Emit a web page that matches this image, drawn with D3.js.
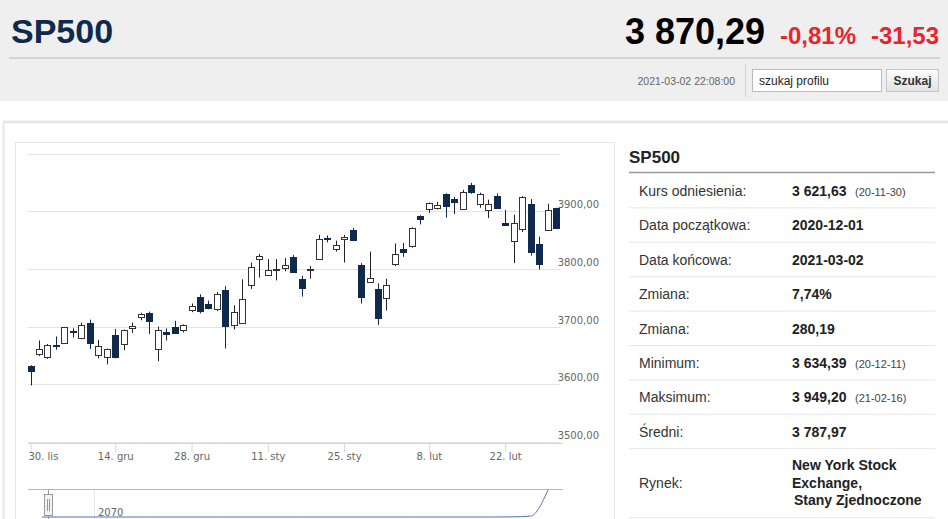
<!DOCTYPE html>
<html>
<head>
<meta charset="utf-8">
<script src="https://cdn.jsdelivr.net/npm/d3@7"></script>
<style>
  body { margin: 0; background: #fff; }
  svg text { font-family: "Liberation Sans", Arial, sans-serif; }
  .ax text { font-family: "DejaVu Sans", Verdana, sans-serif; font-size: 10px; fill: #666; }
</style>
</head>
<body>
<svg id="page" width="948" height="519"></svg>
<script>
// sesje Nov 30 2020 - Mar 2 2021
const dates = [
  '2020-11-30','2020-12-01','2020-12-02','2020-12-03','2020-12-04','2020-12-07','2020-12-08','2020-12-09','2020-12-10','2020-12-11',
  '2020-12-14','2020-12-15','2020-12-16','2020-12-17','2020-12-18','2020-12-21','2020-12-22','2020-12-23','2020-12-24','2020-12-28',
  '2020-12-29','2020-12-30','2020-12-31','2021-01-04','2021-01-05','2021-01-06','2021-01-07','2021-01-08','2021-01-11','2021-01-12',
  '2021-01-13','2021-01-14','2021-01-15','2021-01-19','2021-01-20','2021-01-21','2021-01-22','2021-01-25','2021-01-26','2021-01-27',
  '2021-01-28','2021-01-29','2021-02-01','2021-02-02','2021-02-03','2021-02-04','2021-02-05','2021-02-08','2021-02-09','2021-02-10',
  '2021-02-11','2021-02-12','2021-02-16','2021-02-17','2021-02-18','2021-02-19','2021-02-22','2021-02-23','2021-02-24','2021-02-25',
  '2021-02-26','2021-03-01','2021-03-02'
];
const opens = [
  3631, 3653, 3647, 3668, 3672, 3692.5, 3680, 3707, 3652, 3649,
  3686, 3670, 3698, 3718, 3723, 3661, 3691, 3700, 3695, 3728,
  3752, 3739, 3730, 3763, 3703, 3707, 3772, 3817, 3790, 3800,
  3801, 3821, 3783, 3797, 3818, 3853, 3834, 3851, 3867, 3806,
  3778, 3765, 3750, 3807, 3834, 3839, 3891, 3903, 3905, 3930,
  3921, 3905, 3945, 3913, 3902, 3926, 3880, 3849, 3869, 3912,
  3844, 3867, 3905
];
const highs = [
  3633, 3676, 3670, 3683, 3699.5, 3697, 3707, 3712, 3677, 3662,
  3696, 3695, 3707, 3724, 3726, 3700, 3697, 3710, 3704, 3740,
  3756, 3745, 3760, 3770, 3737, 3782, 3811, 3826, 3817, 3817,
  3819, 3824, 3788, 3805, 3859, 3858, 3849, 3859, 3871, 3810,
  3830, 3775, 3783, 3844, 3845, 3872, 3893, 3915, 3916, 3931,
  3925, 3937, 3949.2, 3932, 3920, 3931, 3902, 3894, 3926, 3921,
  3856, 3913, 3906
];
const lows = [
  3598, 3649, 3644, 3660, 3670, 3681, 3678, 3661, 3645, 3634.4,
  3645, 3659, 3689, 3711, 3687, 3640, 3676, 3688, 3690, 3725,
  3723, 3730, 3727, 3662, 3695, 3705, 3765, 3785, 3788, 3780,
  3796, 3793, 3752, 3783, 3816, 3846, 3830, 3811, 3848, 3740,
  3776, 3703, 3728, 3805, 3821, 3837, 3877, 3897, 3903, 3889,
  3895, 3904, 3930, 3906, 3888, 3905, 3877, 3810, 3864, 3823,
  3799, 3866, 3869
];
const closes = [
  3621.6, 3662, 3668, 3666.7, 3699, 3691, 3702, 3672.8, 3667, 3662,
  3647.5, 3694.6, 3701, 3722.5, 3709, 3694, 3687, 3690, 3703, 3735,
  3727, 3732, 3756, 3700.6, 3725, 3748, 3803, 3823, 3798, 3800.5,
  3807, 3795, 3767, 3799, 3852, 3852, 3841, 3855, 3849.6, 3750.8,
  3785, 3714, 3772, 3825, 3829, 3871, 3886, 3914, 3910, 3909,
  3916, 3934, 3933, 3930, 3912, 3906, 3877, 3880, 3925, 3828,
  3810, 3902, 3870.3
];

const tickDates = ['2020-11-30','2020-12-14','2020-12-28','2021-01-11','2021-01-25','2021-02-08','2021-02-22'];
const tickLabels = ['30. lis','14. gru','28. gru','11. sty','25. sty','8. lut','22. lut'];
const yTicks = [3500, 3600, 3700, 3800, 3900, 4000];
const yLabelTicks = [3500, 3600, 3700, 3800, 3900];

// nawigator (caly zakres)
const navValues = [1.0, 1.0, 1.0, 1.0, 1.0, 1.0, 1.0, 1.0, 1.0, 1.0,
                   1.0, 1.0, 1.0, 1.0, 1.0, 1.0, 1.0, 1.0, 1.0, 1.0,
                   1.0, 1.0, 1.0, 1.0, 1.0, 1.0, 1.0, 1.05, 1.3, 10];
const navLabel = '2070';

const statLabels = ['Kurs odniesienia:', 'Data początkowa:', 'Data końcowa:', 'Zmiana:', 'Zmiana:', 'Minimum:', 'Maksimum:', 'Średni:'];
const statValues = ['3 621,63', '2020-12-01', '2021-03-02', '7,74%', '280,19', '3 634,39', '3 949,20', '3 787,97'];
const statNotes = ['(20-11-30)', '', '', '', '', '(20-12-11)', '(21-02-16)', ''];
const marketLines = ['New York Stock', 'Exchange,', 'Stany Zjednoczone'];

const svg = d3.select('#page');
const navy = '#0f2a4d';

// ---- naglowek
svg.append('rect').attr('x', 0).attr('y', 0).attr('width', 948).attr('height', 101).attr('fill', '#efefef');
svg.append('text').attr('x', 11).attr('y', 43).text('SP500')
  .style('font-size', '34px').style('font-weight', 'bold').attr('fill', navy);
svg.append('text').attr('x', 625).attr('y', 44).text('3 870,29')
  .style('font-size', '36px').style('font-weight', 'bold').attr('fill', '#000');
svg.append('text').attr('x', 780).attr('y', 44).text('-0,81%')
  .style('font-size', '24px').style('font-weight', 'bold').attr('fill', '#e8242c');
svg.append('text').attr('x', 871).attr('y', 44).text('-31,53')
  .style('font-size', '24px').style('font-weight', 'bold').attr('fill', '#e8242c');
svg.append('line').attr('x1', 9).attr('x2', 940).attr('y1', 58).attr('y2', 58)
  .attr('stroke', '#d4d4d4').attr('stroke-width', 2);

svg.append('text').attr('x', 735).attr('y', 85).attr('text-anchor', 'end').text('2021-03-02 22:08:00')
  .style('font-size', '10.5px').attr('fill', '#666');
svg.append('line').attr('x1', 745.5).attr('x2', 745.5).attr('y1', 63).attr('y2', 97).attr('stroke', '#d2d2d2');
svg.append('rect').attr('x', 752.5).attr('y', 69.5).attr('width', 129).attr('height', 22)
  .attr('fill', '#fff').attr('stroke', '#bbb');
svg.append('text').attr('x', 759).attr('y', 85).text('szukaj profilu').style('font-size', '12px').attr('fill', '#222');

const grad = svg.append('defs').append('linearGradient').attr('id', 'btn').attr('x1', 0).attr('x2', 0).attr('y1', 0).attr('y2', 1);
grad.append('stop').attr('offset', '0%').attr('stop-color', '#fdfdfd');
grad.append('stop').attr('offset', '100%').attr('stop-color', '#e2e2e2');
svg.append('rect').attr('x', 886.5).attr('y', 69.5).attr('width', 52).attr('height', 22)
  .attr('fill', 'url(#btn)').attr('stroke', '#c6c6c6');
svg.append('text').attr('x', 912.5).attr('y', 85).attr('text-anchor', 'middle').text('Szukaj')
  .style('font-size', '12px').style('font-weight', 'bold').attr('fill', '#333');

// ---- ramki
svg.append('line').attr('x1', 3).attr('x2', 948).attr('y1', 122).attr('y2', 122).attr('stroke', '#e7e7e7').attr('stroke-width', 3);
svg.append('line').attr('x1', 3.5).attr('x2', 3.5).attr('y1', 121).attr('y2', 519).attr('stroke', '#e7e7e7').attr('stroke-width', 2);
svg.append('rect').attr('x', 15.5).attr('y', 142.5).attr('width', 599).attr('height', 400)
  .attr('fill', 'none').attr('stroke', '#e6e6e6');

// ---- wykres
const plot = { left: 28, right: 560, top: 153.5, bottom: 442 };
const x = d3.scalePoint().domain(dates).range([30.5, 556]);
const y = d3.scaleLinear().domain([3500, 4000]).range([plot.bottom, plot.top]);

const grid = svg.append('g');
grid.selectAll('line').data(yTicks).enter().append('line')
  .attr('x1', plot.left).attr('x2', plot.right)
  .attr('y1', d => Math.round(y(d)) + 0.5).attr('y2', d => Math.round(y(d)) + 0.5)
  .attr('stroke', '#e3e3e3');

const yAx = svg.append('g').attr('class', 'ax');
yAx.selectAll('text').data(yLabelTicks).enter().append('text')
  .attr('x', 599).attr('y', d => y(d) - 3).attr('text-anchor', 'end')
  .text(d => d.toFixed(2).replace('.', ','));

const xAxis = d3.axisBottom(x).tickValues(tickDates).tickFormat((d, i) => tickLabels[i]).tickSize(9).tickPadding(1);
const xg = svg.append('g').attr('class', 'ax').attr('transform', 'translate(0,' + (plot.bottom + 1) + ')').call(xAxis);
xg.select('.domain').remove();
xg.selectAll('.tick line').attr('stroke', '#ccd6eb');
xg.selectAll('.tick text').attr('fill', '#666');
xg.selectAll('.tick').filter((d, i) => i === 0).select('text').attr('text-anchor', 'start').attr('x', -2.5);
xg.append('line').attr('x1', plot.left).attr('x2', plot.right + 3).attr('y1', 0.5).attr('y2', 0.5).attr('stroke', '#ccd6eb');

const candles = dates.map((d, i) => ({ d, o: opens[i], h: highs[i], l: lows[i], c: closes[i] }));
const cg = svg.append('g');
const bw = 6;
const cs = cg.selectAll('g').data(candles).enter().append('g')
  .attr('transform', d => 'translate(' + Math.round(x(d.d)) + ',0)');
cs.append('line').attr('x1', 0.5).attr('x2', 0.5)
  .attr('y1', d => y(d.h)).attr('y2', d => y(d.l))
  .attr('stroke', d => d.c < d.o ? navy : '#222').attr('stroke-width', 1);
cs.append('rect')
  .attr('x', -bw / 2 + 0.5).attr('width', bw)
  .attr('y', d => Math.round(y(Math.max(d.o, d.c))) + 0.5)
  .attr('height', d => Math.max(1, Math.round(Math.abs(y(d.o) - y(d.c)))))
  .attr('fill', d => d.c < d.o ? navy : '#fff')
  .attr('stroke', d => d.c < d.o ? navy : '#333').attr('stroke-width', 1);

// ---- nawigator
const navTop = 489.5;
svg.append('line').attr('x1', plot.left).attr('x2', plot.right + 3).attr('y1', navTop).attr('y2', navTop).attr('stroke', '#b5b5b5');
svg.append('line').attr('x1', 94.5).attr('x2', 94.5).attr('y1', navTop).attr('y2', 519).attr('stroke', '#e6e6e6');
svg.append('text').attr('class', 'ax').attr('x', 98).attr('y', 516).text(navLabel)
  .style('font-family', '"DejaVu Sans", Verdana, sans-serif').style('font-size', '10px').attr('fill', '#666');
const nx = d3.scaleLinear().domain([0, navValues.length - 1]).range([42, 548]);
const ny = d3.scaleLinear().domain(d3.extent(navValues)).range([517, 490]);
svg.append('path').datum(navValues)
  .attr('d', d3.line().x((d, i) => nx(i)).y(d => ny(d)).curve(d3.curveMonotoneX))
  .attr('fill', 'none').attr('stroke', '#4a72b8').attr('stroke-width', 1);
svg.append('line').attr('x1', 48.5).attr('x2', 48.5).attr('y1', navTop).attr('y2', 519).attr('stroke', '#999');
svg.append('rect').attr('x', 44.5).attr('y', 494.5).attr('width', 8).attr('height', 21)
  .attr('fill', '#f2f2f2').attr('stroke', '#999');
svg.append('line').attr('x1', 47.5).attr('x2', 47.5).attr('y1', 499).attr('y2', 511).attr('stroke', '#999');
svg.append('line').attr('x1', 49.5).attr('x2', 49.5).attr('y1', 499).attr('y2', 511).attr('stroke', '#999');

// ---- tabela
const tx0 = 629, tx1 = 935;
svg.append('text').attr('x', tx0).attr('y', 163).text('SP500')
  .style('font-size', '17px').style('font-weight', 'bold').attr('fill', '#222');
svg.append('line').attr('x1', tx0).attr('x2', tx1).attr('y1', 172.5).attr('y2', 172.5).attr('stroke', '#999').attr('stroke-width', 1.5);
const rowTop = 173, rowH = 34.4;
const rows = svg.append('g').selectAll('g').data(statLabels).enter().append('g')
  .attr('transform', (d, i) => 'translate(0,' + (rowTop + i * rowH) + ')');
rows.append('text').attr('x', 639).attr('y', 23).text(d => d).style('font-size', '14px').attr('fill', '#333');
rows.append('text').attr('x', 792).attr('y', 23).text((d, i) => statValues[i])
  .style('font-size', '14px').style('font-weight', 'bold').attr('fill', '#222');
rows.append('text').attr('x', 855).attr('y', 23).text((d, i) => statNotes[i])
  .style('font-size', '11px').attr('fill', '#444');
rows.append('line').attr('x1', tx0).attr('x2', tx1).attr('y1', rowH + 0.5).attr('y2', rowH + 0.5).attr('stroke', '#e6e6e6');

const mTop = rowTop + statLabels.length * rowH;
svg.append('text').attr('x', 639).attr('y', mTop + 40).text('Rynek:').style('font-size', '14px').attr('fill', '#333');
svg.append('g').selectAll('text').data(marketLines).enter().append('text')
  .attr('x', (d, i) => i === 2 ? 794 : 792).attr('y', (d, i) => mTop + 22 + i * 17.6)
  .text(d => d).style('font-size', '14px').style('font-weight', 'bold').attr('fill', '#222');
svg.append('line').attr('x1', tx0).attr('x2', tx1).attr('y1', mTop + 69.5).attr('y2', mTop + 69.5).attr('stroke', '#e6e6e6');
</script>
</body>
</html>
